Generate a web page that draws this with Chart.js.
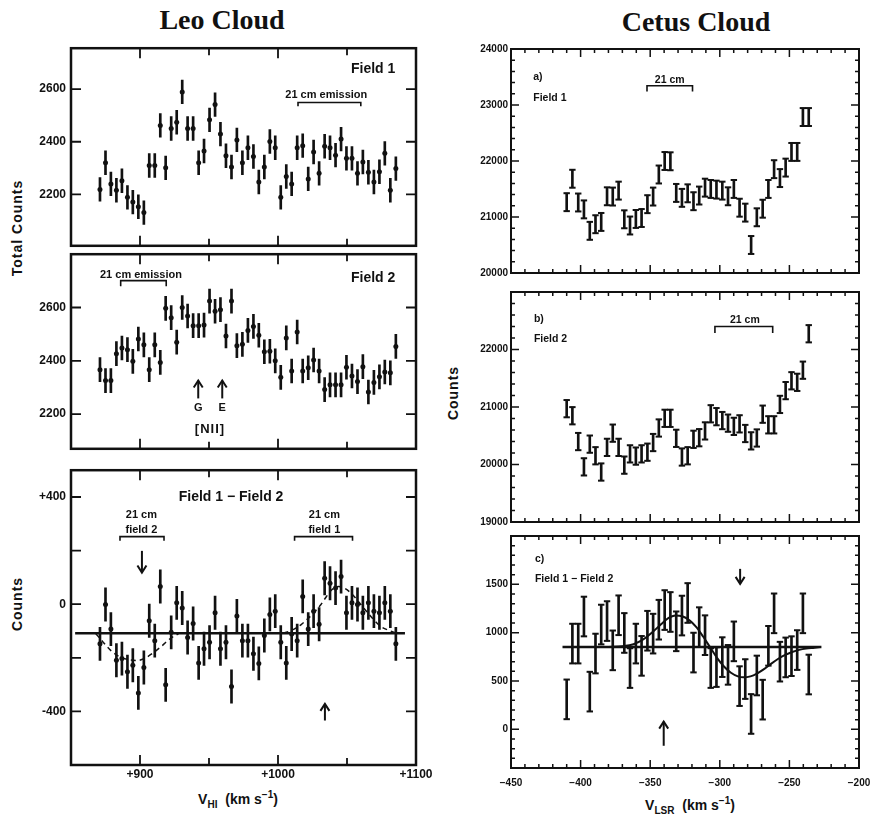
<!DOCTYPE html>
<html><head><meta charset="utf-8"><title>Leo Cloud / Cetus Cloud</title>
<script src="https://cdn.jsdelivr.net/npm/chart.js@4.4.1/dist/chart.umd.min.js"></script>
<style>
html,body{margin:0;padding:0;background:#fff;}
body{position:relative;width:876px;height:820px;overflow:hidden;font-family:"Liberation Sans","DejaVu Sans",Arial,sans-serif;color:#111;}
.t{position:absolute;white-space:nowrap;font-weight:bold;line-height:1;color:#111;}
.title{font-family:"Liberation Serif","DejaVu Serif",serif;font-size:28px;transform:translate(-50%,-50%);}
.ax{font-size:14px;transform:translate(-50%,-50%);}
.rot{transform:translate(-50%,-50%) rotate(-90deg);letter-spacing:1px;}
canvas{position:absolute;}
</style></head><body>
<div class="t title" style="left:222px;top:20px">Leo Cloud</div>
<div class="t title" style="left:696px;top:22px">Cetus Cloud</div>
<div class="t ax rot" style="left:17px;top:228px">Total Counts</div>
<div class="t ax rot" style="left:17px;top:604px">Counts</div>
<div class="t ax rot" style="left:453px;top:393px">Counts</div>
<div class="t ax" style="left:238px;top:800px">V<sub style="font-size:10px">HI</sub>&nbsp; (km s<sup style="font-size:10px">−1</sup>)</div>
<div class="t ax" style="left:690px;top:806px">V<sub style="font-size:10px">LSR</sub>&nbsp; (km s<sup style="font-size:10px">−1</sup>)</div>
<script>
const INK = '#111';

// ---------------- Leo Cloud ----------------
const leoVelocity = [871.0, 875.0, 878.9, 882.9, 886.9, 890.9, 894.8, 898.8, 902.8, 906.7,
  910.7, 914.7, 918.6, 922.6, 926.6, 930.6, 934.5, 938.5, 942.5, 946.4,
  950.4, 954.4, 958.3, 962.3, 966.3, 970.2, 974.2, 978.2, 982.2, 986.1,
  990.1, 994.1, 998.0, 1002.0, 1006.0, 1009.9, 1013.9, 1017.9, 1021.9, 1025.8,
  1029.8, 1033.8, 1037.7, 1041.7, 1045.7, 1049.6, 1053.6, 1057.6, 1061.5, 1065.5,
  1069.5, 1073.5, 1077.4, 1081.4, 1085.4];
const leoField1Counts = [2219, 2320, 2240, 2216, 2252, 2189, 2171, 2153, 2131, 2310,
  2310, 2462, 2301, 2450, 2474, 2589, 2450, 2450, 2320, 2365,
  2483, 2541, 2429, 2347, 2304, 2407, 2320, 2377, 2344, 2247,
  2304, 2401, 2377, 2189, 2268, 2240, 2377, 2385, 2259, 2361,
  2280, 2383, 2377, 2349, 2410, 2337, 2337, 2280, 2323, 2284,
  2247, 2286, 2356, 2216, 2298];
const leoField2Counts = [2367, 2326, 2326, 2427, 2448, 2442, 2398, 2482, 2460, 2367,
  2460, 2394, 2597, 2562, 2470, 2600, 2568, 2532, 2532, 2534,
  2624, 2586, 2592, 2493, 2624, 2457, 2462, 2514, 2529, 2496,
  2434, 2436, 2400, 2338, 2486, 2362, 2508, 2362, 2374, 2403,
  2362, 2292, 2310, 2310, 2310, 2376, 2343, 2322, 2378, 2283,
  2319, 2340, 2358, 2355, 2454];
const leoDiffCounts = [-148, -1, -93, -209, -203, -252, -228, -331, -236, -62,
  -136, 66, -301, -105, 5, -14, -124, -72, -219, -166,
  -142, -32, -166, -142, -307, -44, -136, -136, -185, -221,
  -117, -38, -26, -142, -219, -111, -136, 29, -93, -26,
  -75, 97, 78, 60, 103, -32, 5, -1, -32, 5,
  -26, -32, 5, -26, -148];
const leoField1Err = 45, leoField2Err = 45, leoDiffErr = 62;
const leoFitVelocity = [868, 873, 880, 886, 892, 898, 904, 910, 916, 922, 928, 966,
  1004, 1010, 1017, 1022, 1027, 1031, 1035, 1039, 1044, 1048, 1053, 1060, 1067, 1074, 1081, 1086];
const leoFitCounts = [-110, -140, -178, -198, -207, -210, -200, -180, -155, -128, -110, null,
  -108, -97, -75, -52, -26, -2, 28, 54, 66, 60, 41, -1, -44, -81, -99, -108];
const leoBaselineVelocity = [853, 1092];
const leoBaselineCounts = [-108, -108];
const leoVelTicks = [900, 1000, 1100];
const leoField1Ticks = [2200, 2400, 2600];
const leoField2Ticks = [2200, 2400, 2600];
const leoDiffTicks = [-400, 0, 400];

// ---------------- Cetus Cloud ----------------
const cetusVelocity = [-410.0, -405.9, -401.7, -397.6, -393.4, -389.3, -385.2, -381.0, -376.9, -372.7,
  -368.6, -364.5, -360.3, -356.2, -352.0, -347.9, -343.8, -339.6, -335.5, -331.3,
  -327.2, -323.1, -318.9, -314.8, -310.6, -306.5, -302.4, -298.2, -294.1, -289.9,
  -285.8, -281.7, -277.5, -273.4, -269.2, -265.1, -261.0, -256.8, -252.7, -248.5,
  -244.4, -240.3, -236.1];
const cetusField1Counts = [21265, 21683, 21259, 21136, 20753, 20871, 20912, 21370, 21365, 21471,
  20959, 20848, 20965, 20982, 21229, 21365, 21759, 22000, 21995, 21430,
  21342, 21423, 21282, 21383, 21524, 21501, 21489, 21471, 21370, 21501,
  21166, 21078, 20500, 20995, 21148, 21501, 21854, 21695, 21882, 22162,
  22162, 22785, 22785];
const cetusField2Counts = [20971, 20848, 20399, 19959, 20354, 20152, 19869, 20298, 20545, 20298,
  19989, 20185, 20146, 20185, 20214, 20382, 20635, 20803, 20803, 20455,
  20130, 20152, 20438, 20466, 20584, 20882, 20832, 20764, 20719, 20663,
  20707, 20539, 20411, 20461, 20875, 20690, 20690, 21045, 21285, 21456,
  21429, 21640, 22274];
const cetusDiffCounts = [310, 887, 887, 1167, 390, 784, 1084, 1120, 817, 1180,
  997, 634, 887, 760, 1020, 990, 1134, 1234, 1214, 1014,
  1177, 1307, 794, 1057, 974, 634, 644, 747, 667, 910,
  447, 520, 159, 557, 307, 864, 1200, 700, 744, 757,
  820, 1200, 567];
const cetusField1Err = 160, cetusField2Err = 150, cetusDiffErr = 205;
const cetusFitVelocity = [-380, -370, -362, -355, -348, -342, -337, -332, -327, -322, -317, -312, -307, -302, -297,
  -292, -287, -283, -278, -273, -268, -263, -258, -253, -248, -243, -238, -232, -228];
const cetusFitCounts = [852, 860, 880, 930, 1010, 1090, 1150, 1178, 1170, 1130, 1060, 960, 850, 740, 650,
  585, 548, 538, 548, 580, 625, 680, 730, 770, 800, 822, 836, 845, 852];
const cetusBaselineVelocity = [-413, -227];
const cetusBaselineCounts = [852, 852];
const cetusVelTicks = [-450, -400, -350, -300, -250, -200];
const cetusField1Ticks = [20000, 21000, 22000, 23000, 24000];
const cetusField2Ticks = [19000, 20000, 21000, 22000];
const cetusDiffTicks = [0, 500, 1000, 1500];

// ---------------- helpers ----------------
const pts = (xs, ys) => xs.map((x, i) => ({x, y: ys[i]}));
const bars = (xs, ys, e) => xs.map((x, i) => ({x, y: [ys[i] - e, ys[i] + e]}));
const caps = (xs, ys, e) => xs.flatMap((x, i) => [{x, y: ys[i] - e}, {x, y: ys[i] + e}]);
function marks(a, b, step, majorEvery, majorLen, minorLen) {
  const r = [];
  for (let k = Math.round(a / step); k * step <= b + 1e-9; k++) {
    const v = k * step;
    r.push({v, l: (Math.abs(v % majorEvery) < 1e-6) ? majorLen : minorLen});
  }
  return r;
}

function placeLabels(chart, labels) {
  const cv = chart.canvas, xs = chart.scales.x, ys = chart.scales.y;
  labels.forEach(L => {
    const el = document.createElement('div');
    el.className = 't';
    el.textContent = L.text;
    el.style.fontSize = L.size + 'px';
    if (L.spacing) el.style.letterSpacing = L.spacing + 'px';
    el.style.left = (cv.offsetLeft + xs.getPixelForValue(L.x)) + 'px';
    el.style.top = (cv.offsetTop + ys.getPixelForValue(L.y)) + 'px';
    el.style.transform = L.align === 'left' ? 'translate(0,-50%)' : (L.align === 'right' ? 'translate(-100%,-50%)' : 'translate(-50%,-50%)');
    document.body.appendChild(el);
  });
}

function decoPlugin(d) {
  return {
    id: 'deco',
    afterDatasetsDraw(chart) {
      const ctx = chart.ctx, a = chart.chartArea, xs = chart.scales.x, ys = chart.scales.y;
      ctx.save();
      ctx.strokeStyle = INK; ctx.fillStyle = INK;
      ctx.lineWidth = d.frame;
      ctx.strokeRect(a.left, a.top, a.right - a.left, a.bottom - a.top);
      ctx.lineWidth = d.tickW;
      ctx.beginPath();
      d.xMarks.forEach(t => {
        const p = xs.getPixelForValue(t.v);
        ctx.moveTo(p, a.bottom); ctx.lineTo(p, a.bottom - t.l);
        ctx.moveTo(p, a.top); ctx.lineTo(p, a.top + t.l);
      });
      d.yMarks.forEach(t => {
        const p = ys.getPixelForValue(t.v);
        ctx.moveTo(a.left, p); ctx.lineTo(a.left + t.l, p);
        ctx.moveTo(a.right, p); ctx.lineTo(a.right - t.l, p);
      });
      ctx.stroke();
      ctx.lineWidth = 1.6;
      (d.brackets || []).forEach(b => {
        const x1 = xs.getPixelForValue(b.x1), x2 = xs.getPixelForValue(b.x2);
        const y = ys.getPixelForValue(b.y), y2 = ys.getPixelForValue(b.y2);
        ctx.beginPath(); ctx.moveTo(x1, y2); ctx.lineTo(x1, y); ctx.lineTo(x2, y); ctx.lineTo(x2, y2); ctx.stroke();
      });
      ctx.lineWidth = 2;
      (d.arrows || []).forEach(r => {
        const x = xs.getPixelForValue(r.x), y1 = ys.getPixelForValue(r.tail), y2 = ys.getPixelForValue(r.tip);
        const dir = Math.sign(y2 - y1);
        ctx.beginPath(); ctx.moveTo(x, y1); ctx.lineTo(x, y2); ctx.stroke();
        ctx.beginPath(); ctx.moveTo(x - 4.5, y2 - dir * 7); ctx.lineTo(x, y2); ctx.lineTo(x + 4.5, y2 - dir * 7); ctx.stroke();
      });
      ctx.restore();
      if (!chart.$labelsPlaced) { chart.$labelsPlaced = true; placeLabels(chart, d.labels || []); }
    }
  };
}

function panel(cfg) {
  const c = document.createElement('canvas');
  const pt = 8, pr = 22, yW = cfg.yW, xH = cfg.xLabels ? 30 : 0, pb = cfg.xLabels ? 0 : 8;
  const W = yW + cfg.box.w + pr, H = pt + cfg.box.h + xH + pb;
  c.width = W; c.height = H;
  c.style.left = (cfg.box.x - yW) + 'px'; c.style.top = (cfg.box.y - pt) + 'px';
  c.style.width = W + 'px'; c.style.height = H + 'px';
  document.body.appendChild(c);
  const font = {family: "'Liberation Sans', Arial, sans-serif", weight: 'bold', size: cfg.fontSize};
  return new Chart(c, {
    type: 'scatter',
    data: {datasets: cfg.datasets},
    options: {
      responsive: false, animation: false, devicePixelRatio: 1,
      layout: {padding: {top: pt, right: pr, bottom: pb, left: 0}},
      plugins: {legend: {display: false}, tooltip: {enabled: false}},
      scales: {
        x: {type: 'linear', min: cfg.xMin, max: cfg.xMax, offset: false,
          grid: {display: false, drawTicks: false}, border: {display: false},
          ticks: {display: !!cfg.xLabels, padding: cfg.xPad, font, color: INK, autoSkip: false, maxRotation: 0, callback: cfg.xFmt},
          afterBuildTicks: s => { s.ticks = (cfg.xLabels || []).map(v => ({value: v})); },
          afterFit: s => { s.height = xH; }},
        y: {type: 'linear', min: cfg.yMin, max: cfg.yMax,
          grid: {display: false, drawTicks: false}, border: {display: false},
          ticks: {padding: cfg.yPad, font, color: INK, autoSkip: false, callback: cfg.yFmt || (v => String(v))},
          afterBuildTicks: s => { s.ticks = cfg.yLabels.map(v => ({value: v})); },
          afterFit: s => { s.width = yW; }}
      }
    },
    plugins: [decoPlugin(cfg.deco)]
  });
}

function dotSeries(xs, ys, e) {
  return [
    {type: 'scatter', data: pts(xs, ys), pointStyle: 'circle', pointRadius: 2.5, backgroundColor: INK, borderWidth: 0},
    {type: 'bar', data: bars(xs, ys, e), backgroundColor: INK, barThickness: 2, borderWidth: 0, grouped: false}
  ];
}
function capSeries(xs, ys, e) {
  return [
    {type: 'scatter', data: caps(xs, ys, e), pointStyle: 'line', pointRadius: 3.2, borderColor: INK, borderWidth: 2},
    {type: 'bar', data: bars(xs, ys, e), backgroundColor: INK, barThickness: 2, borderWidth: 0, grouped: false}
  ];
}

// ---------------- Leo panels ----------------
const leoX = {x: 71, w: 345};
const leoXMarks = marks(900, 1050, 50, 100, 10, 7);
const leoCommon = {xMin: 850, xMax: 1100, yW: 60, yPad: 5, xPad: 2, fontSize: 12, xFmt: v => '+' + v};

panel(Object.assign({}, leoCommon, {
  box: {x: leoX.x, w: leoX.w, y: 44, h: 206}, yMin: 2005, yMax: 2755, yLabels: leoField1Ticks,
  datasets: dotSeries(leoVelocity, leoField1Counts, leoField1Err),
  deco: {frame: 2.5, tickW: 1.8, xMarks: leoXMarks, yMarks: leoField1Ticks.map(v => ({v, l: 10})),
    brackets: [{x1: 1014.5, x2: 1060, y: 2549, y2: 2535}],
    labels: [{text: 'Field 1', x: 1085, y: 2680, size: 14, align: 'right'},
             {text: '21 cm emission', x: 1035, y: 2582, size: 11}]}
}));

panel(Object.assign({}, leoCommon, {
  box: {x: leoX.x, w: leoX.w, y: 250, h: 203}, yMin: 2070, yMax: 2800, yLabels: leoField2Ticks,
  datasets: dotSeries(leoVelocity, leoField2Counts, leoField2Err),
  deco: {frame: 2.5, tickW: 1.8, xMarks: leoXMarks, yMarks: leoField2Ticks.map(v => ({v, l: 10})),
    brackets: [{x1: 886, x2: 919, y: 2701, y2: 2680}],
    arrows: [{x: 942.2, tail: 2259, tip: 2326}, {x: 959.6, tail: 2259, tip: 2326}],
    labels: [{text: 'Field 2', x: 1085, y: 2715, size: 14, align: 'right'},
             {text: '21 cm emission', x: 900.7, y: 2726, size: 11},
             {text: 'G', x: 942.2, y: 2227, size: 11},
             {text: 'E', x: 959.6, y: 2227, size: 11},
             {text: '[NII]', x: 950.7, y: 2147, size: 13, spacing: 1}]}
}));

panel(Object.assign({}, leoCommon, {
  box: {x: leoX.x, w: leoX.w, y: 466, h: 299}, yMin: -600, yMax: 500, yLabels: leoDiffTicks,
  xLabels: leoVelTicks,
  yFmt: v => v > 0 ? '+' + v : (v < 0 ? '-' + (-v) : '0'),
  datasets: [
    {type: 'line', data: pts(leoBaselineVelocity, leoBaselineCounts), borderColor: INK, borderWidth: 2.5, pointRadius: 0},
    {type: 'line', data: pts(leoFitVelocity, leoFitCounts), borderColor: INK, borderWidth: 1.5, borderDash: [5, 4], pointRadius: 0, spanGaps: false, cubicInterpolationMode: 'monotone'},
    ...dotSeries(leoVelocity, leoDiffCounts, leoDiffErr)
  ],
  deco: {frame: 2.5, tickW: 1.8, xMarks: leoXMarks, yMarks: [-400, -200, 0, 200, 400].map(v => ({v, l: 10})),
    brackets: [{x1: 885.5, x2: 917.4, y: 252, y2: 237}, {x1: 1012, x2: 1054, y: 252, y2: 237}],
    arrows: [{x: 901.4, tail: 199, tip: 118}, {x: 1034, tail: -434, tip: -372}],
    labels: [{text: 'Field 1 − Field 2', x: 966, y: 404, size: 14},
             {text: '21 cm', x: 901, y: 337, size: 11}, {text: 'field 2', x: 901, y: 282, size: 11},
             {text: '21 cm', x: 1033.6, y: 337, size: 11}, {text: 'field 1', x: 1033.6, y: 282, size: 11}]}
}));

// ---------------- Cetus panels ----------------
const cetX = {x: 511, w: 348};
const cetXMarks = marks(-440, -210, 10, 50, 8, 4);
const cetCommon = {xMin: -450, xMax: -200, yW: 50, yPad: 3, xPad: 9, fontSize: 10,
  xFmt: v => v < 0 ? '−' + (-v) : String(v)};

panel(Object.assign({}, cetCommon, {
  box: {x: cetX.x, w: cetX.w, y: 48, h: 226}, yMin: 20000, yMax: 24000, yLabels: cetusField1Ticks,
  datasets: capSeries(cetusVelocity, cetusField1Counts, cetusField1Err),
  deco: {frame: 2, tickW: 1.5, xMarks: cetXMarks, yMarks: marks(20200, 23800, 200, 1000, 8, 4),
    brackets: [{x1: -352.3, x2: -319.6, y: 23345, y2: 23240}],
    labels: [{text: 'a)', x: -434, y: 23522, size: 10.5, align: 'left'},
             {text: 'Field 1', x: -434, y: 23138, size: 10.5, align: 'left'},
             {text: '21 cm', x: -336, y: 23464, size: 10.5}]}
}));

panel(Object.assign({}, cetCommon, {
  box: {x: cetX.x, w: cetX.w, y: 291, h: 232}, yMin: 19000, yMax: 23000, yLabels: cetusField2Ticks,
  datasets: capSeries(cetusVelocity, cetusField2Counts, cetusField2Err),
  deco: {frame: 2, tickW: 1.5, xMarks: cetXMarks, yMarks: marks(19200, 22800, 200, 1000, 8, 4),
    brackets: [{x1: -303.5, x2: -262, y: 22400, y2: 22286}],
    labels: [{text: 'b)', x: -433.5, y: 22544, size: 10.5, align: 'left'},
             {text: 'Field 2', x: -433.5, y: 22200, size: 10.5, align: 'left'},
             {text: '21 cm', x: -282, y: 22526, size: 10.5}]}
}));

panel(Object.assign({}, cetCommon, {
  box: {x: cetX.x, w: cetX.w, y: 535, h: 233}, yMin: -400, yMax: 2000, yLabels: cetusDiffTicks,
  xLabels: cetusVelTicks,
  datasets: [
    {type: 'line', data: pts(cetusBaselineVelocity, cetusBaselineCounts), borderColor: INK, borderWidth: 2.5, pointRadius: 0},
    {type: 'line', data: pts(cetusFitVelocity, cetusFitCounts), borderColor: INK, borderWidth: 2, pointRadius: 0, cubicInterpolationMode: 'monotone'},
    ...capSeries(cetusVelocity, cetusDiffCounts, cetusDiffErr)
  ],
  deco: {frame: 2, tickW: 1.5, xMarks: cetXMarks, yMarks: marks(-300, 1900, 100, 500, 8, 4),
    arrows: [{x: -285.4, tail: 1660, tip: 1505}, {x: -340.3, tail: -170, tip: 80}],
    labels: [{text: 'c)', x: -432.8, y: 1771, size: 10.5, align: 'left'},
             {text: 'Field 1 − Field 2', x: -432.8, y: 1566, size: 10.5, align: 'left'}]}
}));
</script>
</body></html>
